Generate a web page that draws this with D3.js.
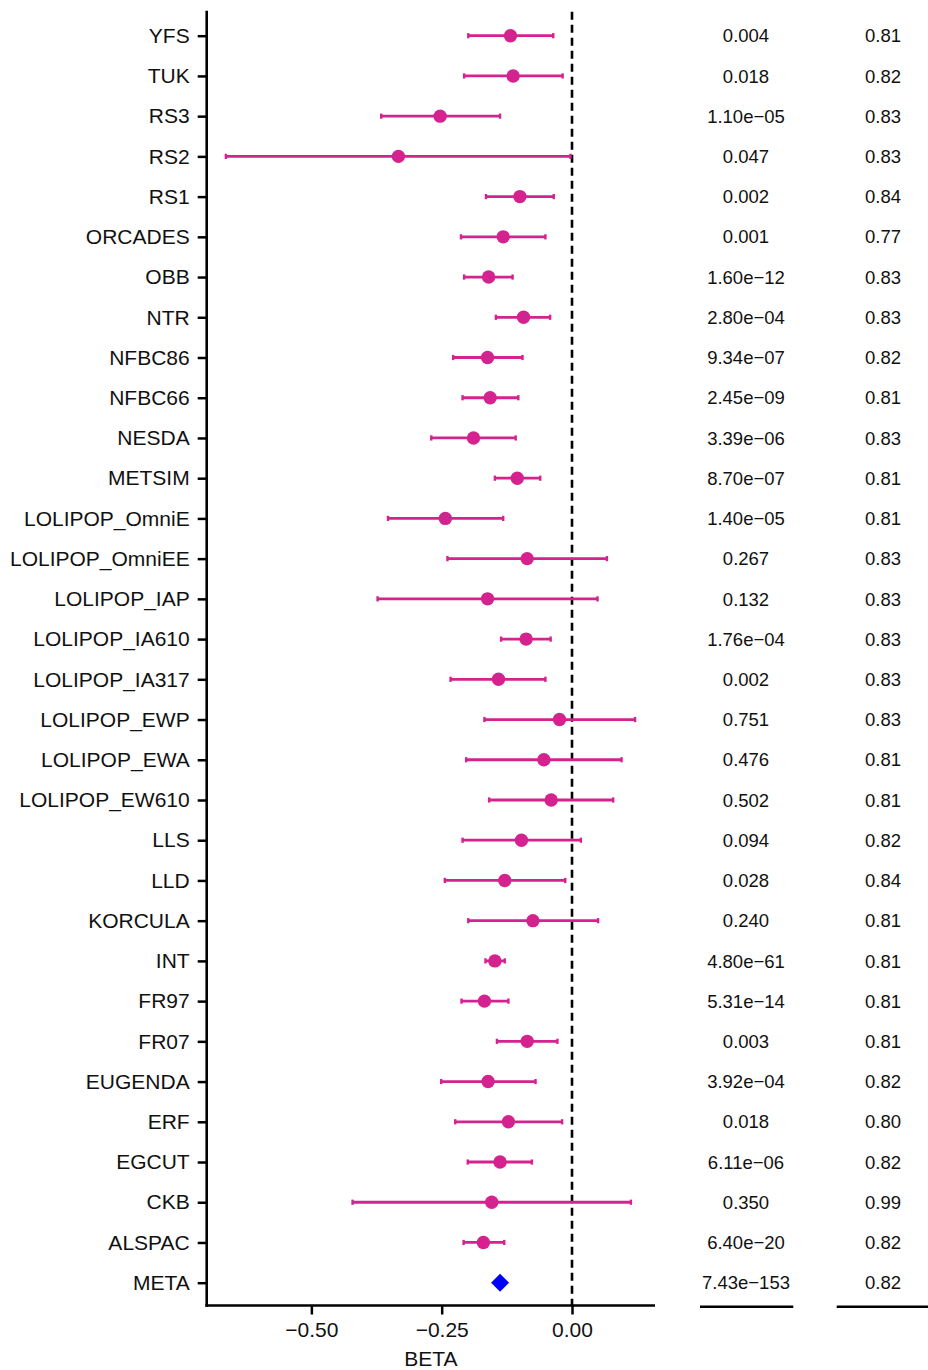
<!DOCTYPE html>
<html>
<head>
<meta charset="utf-8">
<script src="https://cdn.jsdelivr.net/npm/d3@7"></script>
<style>
  html, body { margin: 0; padding: 0; background: #fff; }
  svg { display: block; }
  text { font-family: "Liberation Sans", Arial, Helvetica, sans-serif; fill: #111; }
</style>
</head>
<body>
<svg id="chart" width="928" height="1370"></svg>
<script>
// ---- data (top row first) ----
const studies = ["YFS","TUK","RS3","RS2","RS1","ORCADES","OBB","NTR","NFBC86","NFBC66","NESDA","METSIM",
  "LOLIPOP_OmniE","LOLIPOP_OmniEE","LOLIPOP_IAP","LOLIPOP_IA610","LOLIPOP_IA317","LOLIPOP_EWP","LOLIPOP_EWA",
  "LOLIPOP_EW610","LLS","LLD","KORCULA","INT","FR97","FR07","EUGENDA","ERF","EGCUT","CKB","ALSPAC","META"];
const beta  = [-0.118,-0.113,-0.253,-0.333,-0.100,-0.132,-0.160,-0.093,-0.162,-0.157,-0.189,-0.105,
  -0.243,-0.086,-0.162,-0.088,-0.141,-0.024,-0.054,-0.040,-0.097,-0.129,-0.075,-0.148,-0.168,-0.086,
  -0.161,-0.122,-0.138,-0.154,-0.170,-0.138];
const lower = [-0.199,-0.207,-0.366,-0.664,-0.165,-0.213,-0.207,-0.146,-0.228,-0.210,-0.270,-0.148,
  -0.353,-0.239,-0.373,-0.136,-0.233,-0.168,-0.203,-0.159,-0.210,-0.244,-0.199,-0.166,-0.212,-0.144,
  -0.251,-0.224,-0.200,-0.421,-0.208,null];
const upper = [-0.036,-0.018,-0.138,-0.003,-0.035,-0.051,-0.114,-0.042,-0.095,-0.103,-0.108,-0.061,
  -0.132,0.067,0.049,-0.041,-0.051,0.121,0.095,0.079,0.017,-0.013,0.050,-0.129,-0.122,-0.028,
  -0.070,-0.019,-0.077,0.113,-0.130,null];
const pvals = ["0.004","0.018","1.10e\u221205","0.047","0.002","0.001","1.60e\u221212","2.80e\u221204",
  "9.34e\u221207","2.45e\u221209","3.39e\u221206","8.70e\u221207","1.40e\u221205","0.267","0.132","1.76e\u221204",
  "0.002","0.751","0.476","0.502","0.094","0.028","0.240","4.80e\u221261","5.31e\u221214","0.003",
  "3.92e\u221204","0.018","6.11e\u221206","0.350","6.40e\u221220","7.43e\u2212153"];
const col2 = ["0.81","0.82","0.83","0.83","0.84","0.77","0.83","0.83","0.82","0.81","0.83","0.81",
  "0.81","0.83","0.83","0.83","0.83","0.83","0.81","0.81","0.82","0.84","0.81","0.81","0.81","0.81",
  "0.82","0.80","0.82","0.99","0.82","0.82"];
const xTicks = [-0.5, -0.25, 0];
const xLabel = "BETA";

// ---- layout ----
const svg = d3.select("#chart");
const plotL = 206.7, plotR = 655, plotT = 10.7, plotB = 1305.5;
const pink = "#D4228F", blue = "#0000FF";

const x = d3.scaleLinear().domain([-0.7008, 0.1592]).range([plotL, plotR]);
const y = d3.scalePoint().domain(studies).range([35.7, 1282.7]);

const rows = studies.map((s, i) => ({study: s, beta: beta[i], lo: lower[i], hi: upper[i], p: pvals[i], c2: col2[i]}));

// zero reference line
svg.append("line")
  .attr("x1", x(0)).attr("x2", x(0))
  .attr("y1", plotT + 1).attr("y2", plotB)
  .attr("stroke", "#000").attr("stroke-width", 2.6)
  .attr("stroke-dasharray", "8,5");

// error bars
const eb = rows.filter(d => d.lo !== null);
const g = svg.append("g");
g.selectAll("line.ci").data(eb).join("line")
  .attr("x1", d => x(d.lo)).attr("x2", d => x(d.hi))
  .attr("y1", d => y(d.study)).attr("y2", d => y(d.study))
  .attr("stroke", pink).attr("stroke-width", 2.8);
["lo","hi"].forEach(k => {
  g.selectAll("line.cap" + k).data(eb).join("line")
    .attr("x1", d => x(d[k])).attr("x2", d => x(d[k]))
    .attr("y1", d => y(d.study) - 2.6).attr("y2", d => y(d.study) + 2.6)
    .attr("stroke", pink).attr("stroke-width", 2.4);
});
g.selectAll("circle").data(eb).join("circle")
  .attr("cx", d => x(d.beta)).attr("cy", d => y(d.study))
  .attr("r", 6.7).attr("fill", pink);

// meta diamond
const meta = rows.filter(d => d.lo === null);
g.selectAll("path.diamond").data(meta).join("path")
  .attr("d", d => {
    const cx = x(d.beta), cy = y(d.study), r = 9;
    return `M${cx},${cy - r}L${cx + r},${cy}L${cx},${cy + r}L${cx - r},${cy}Z`;
  })
  .attr("fill", blue);

// axes
const yAxis = svg.append("g")
  .attr("transform", `translate(${plotL},0)`)
  .call(d3.axisLeft(y).tickSize(9).tickPadding(8));
yAxis.select(".domain").remove();
yAxis.selectAll(".tick line").attr("stroke", "#000").attr("stroke-width", 2.5);
yAxis.selectAll(".tick text").attr("font-size", 21).attr("fill", "#111")
  .attr("font-family", "Liberation Sans, Arial, sans-serif");

const xAxis = svg.append("g")
  .attr("transform", `translate(0,${plotB})`)
  .call(d3.axisBottom(x).tickValues(xTicks).tickFormat(d3.format(".2f")).tickSize(9).tickPadding(8));
xAxis.select(".domain").remove();
xAxis.selectAll(".tick line").attr("stroke", "#000").attr("stroke-width", 2.5);
xAxis.selectAll(".tick text").attr("font-size", 21).attr("fill", "#111")
  .attr("font-family", "Liberation Sans, Arial, sans-serif");

// axis lines
svg.append("line").attr("x1", plotL).attr("x2", plotL).attr("y1", plotT).attr("y2", plotB + 1.25)
  .attr("stroke", "#000").attr("stroke-width", 2.6);
svg.append("line").attr("x1", plotL - 1.3).attr("x2", plotR).attr("y1", plotB).attr("y2", plotB)
  .attr("stroke", "#000").attr("stroke-width", 2.6);

svg.append("text").attr("x", (plotL + plotR) / 2).attr("y", 1366)
  .attr("text-anchor", "middle").attr("font-size", 21).text(xLabel);

// table columns
const cols = [
  {key: "p", cx: 746, l: 700, r: 793.3},
  {key: "c2", cx: 883, l: 836.7, r: 930}
];
cols.forEach(c => {
  svg.append("g").selectAll("text").data(rows).join("text")
    .attr("x", c.cx).attr("y", d => y(d.study))
    .attr("dy", "0.36em")
    .attr("text-anchor", "middle").attr("font-size", 18.5)
    .text(d => d[c.key]);
  svg.append("line").attr("x1", c.l).attr("x2", c.r).attr("y1", plotB + 1.3).attr("y2", plotB + 1.3)
    .attr("stroke", "#000").attr("stroke-width", 2.6);
});
</script>
</body>
</html>
